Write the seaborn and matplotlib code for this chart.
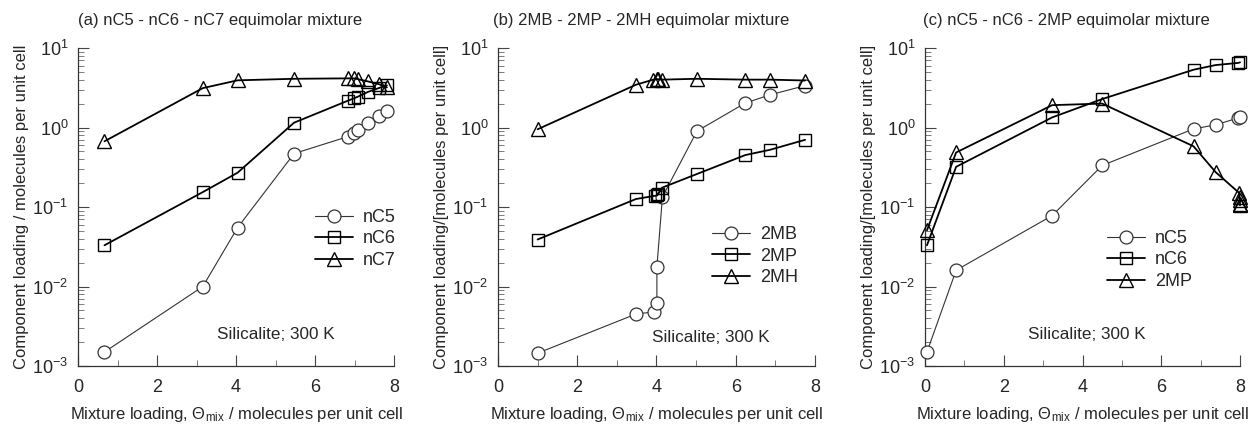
import numpy as np
import pandas as pd
import matplotlib
matplotlib.use("Agg")
import matplotlib.pyplot as plt
import seaborn as sns
from matplotlib.ticker import FixedLocator, LogLocator, NullFormatter

# (a) nC5 - nC6 - nC7
a_x = [0.67, 3.16, 4.04, 5.47, 6.84, 6.99, 7.09, 7.34, 7.62, 7.82]
a_nc5 = [0.0015, 0.010, 0.055, 0.47, 0.77, 0.85, 0.92, 1.14, 1.40, 1.62]
a_nc6 = [0.033, 0.154, 0.27, 1.15, 2.18, 2.33, 2.45, 2.80, 3.14, 3.38]
a_nc7 = [0.67, 3.13, 3.92, 4.1, 4.15, 4.15, 4.05, 3.8, 3.5, 3.2]

# (b) 2MB - 2MP - 2MH
b_x = [1.0, 3.48, 3.94, 4.01, 4.01, 4.15, 5.02, 6.24, 6.87, 7.75]
b_2mb = [0.00145, 0.0045, 0.0048, 0.0062, 0.0177, 0.134, 0.90, 2.03, 2.58, 3.36]
b_x_2mp = [1.0, 3.48, 3.95, 4.02, 4.04, 4.14, 5.02, 6.24, 6.87, 7.75]
b_2mp = [0.039, 0.126, 0.138, 0.14, 0.145, 0.175, 0.26, 0.45, 0.525, 0.70]
b_x_2mh = [1.0, 3.48, 3.92, 4.01, 4.05, 4.14, 5.02, 6.24, 6.87, 7.75]
b_2mh = [0.95, 3.45, 4.0, 4.05, 4.05, 4.0, 4.1, 4.0, 4.0, 3.9]

# (c) nC5 - nC6 - 2MP
c_x = [0.05, 0.79, 3.23, 4.5, 6.82, 7.38, 7.96, 8.0]
c_nc5 = [0.0015, 0.016, 0.078, 0.333, 0.96, 1.08, 1.32, 1.35]
c_nc6 = [0.033, 0.32, 1.34, 2.28, 5.33, 6.1, 6.5, 6.6]
c_x_2mp = [0.05, 0.79, 3.23, 4.5, 6.82, 7.38, 7.98, 7.99, 8.0, 8.0, 8.0]
c_2mp = [0.051, 0.485, 1.91, 2.0, 0.58, 0.275, 0.15, 0.134, 0.122, 0.11, 0.105]

sns.set_theme(style="ticks")
plt.rcParams["font.family"] = ["Liberation Sans", "DejaVu Sans"]
plt.rcParams["mathtext.fontset"] = "custom"
plt.rcParams["mathtext.rm"] = "Liberation Sans"
plt.rcParams["mathtext.it"] = "Liberation Sans:italic"
plt.rcParams["mathtext.default"] = "regular"

fig = plt.figure(figsize=(12.5, 4.25), dpi=100)
H = 425.0
boxes = [(78, 394), (498, 815), (925, 1240)]
axes = [fig.add_axes([l / 1250, (H - 366) / H, (r - l) / 1250, 318 / H]) for l, r in boxes]

circ = dict(marker="o", ms=9.3, mfc="white", mec="#333333", color="#333333", lw=0.8, mew=0.9)
sqr = dict(marker="s", ms=8.8, mfc="none", mec="black", color="black", lw=1.3, mew=1.0)
tri = dict(marker="^", ms=9.5, mfc="none", mec="black", color="black", lw=1.3, mew=1.0)

panels = [
    ("(a) nC5 - nC6 - nC7 equimolar mixture",
     "Component loading / molecules per unit cell",
     [(a_x, a_nc5, "nC5", circ), (a_x, a_nc6, "nC6", sqr), (a_x, a_nc7, "nC7", tri)],
     (0.75, 0.494), (0.627, 0.10)),
    ("(b) 2MB - 2MP - 2MH equimolar mixture",
     "Component loading/[molecules per unit cell]",
     [(b_x, b_2mb, "2MB", circ), (b_x_2mp, b_2mp, "2MP", sqr), (b_x_2mh, b_2mh, "2MH", tri)],
     (0.675, 0.44), (0.67, 0.09)),
    ("(c) nC5 - nC6 - 2MP equimolar mixture",
     "Component loading/[molecules per unit cell]",
     [(c_x, c_nc5, "nC5", circ), (c_x, c_nc6, "nC6", sqr), (c_x_2mp, c_2mp, "2MP", tri)],
     (0.578, 0.428), (0.515, 0.10)),
]

for ax, (title, ylab, series, leg_pos, txt_pos) in zip(axes, panels):
    for xs, ys, name, style in series:
        df = pd.DataFrame({"x": xs, "y": ys})
        sns.lineplot(data=df, x="x", y="y", ax=ax, estimator=None, sort=False,
                     label=name, clip_on=False, zorder=3, **style)
    ax.set_yscale("log")
    ax.set_ylim(1e-3, 10)
    ax.set_xlim(0, 8)
    ax.set_xticks([0, 2, 4, 6, 8])
    ax.xaxis.set_minor_locator(FixedLocator([1, 3, 5, 7]))
    ax.yaxis.set_major_locator(FixedLocator([1e-3, 1e-2, 1e-1, 1, 10]))
    ax.set_yticklabels([r"$10^{-3}$", r"$10^{-2}$", r"$10^{-1}$", r"$10^{0}$", r"$10^{1}$"])
    ax.yaxis.set_minor_locator(LogLocator(base=10, subs=np.arange(2, 10)))
    ax.yaxis.set_minor_formatter(NullFormatter())
    ax.tick_params(axis="both", which="major", direction="in", length=8, width=0.8,
                   labelsize=13, color="#444444")
    ax.tick_params(axis="x", which="major", pad=9)
    ax.tick_params(axis="y", which="major", pad=7)
    ax.tick_params(axis="both", which="minor", direction="in", length=4, width=0.6,
                   color="#666666")
    sns.despine(ax=ax)
    for s in ("left", "bottom"):
        ax.spines[s].set_linewidth(0.9)
        ax.spines[s].set_color("#333333")
    ax.set_xlabel(r"Mixture loading, $\Theta_{mix}$ / molecules per unit cell",
                  fontsize=12, labelpad=7)
    ax.set_ylabel(ylab, fontsize=12, labelpad=2)
    ax.text(0.45, 1.085, title, transform=ax.transAxes, ha="center", va="center",
            fontsize=12)
    ax.text(txt_pos[0], txt_pos[1], "Silicalite; 300 K", transform=ax.transAxes,
            ha="center", va="center", fontsize=12.3)
    ax.legend(loc="upper left", bbox_to_anchor=leg_pos, frameon=False, fontsize=13,
              handlelength=2.1, handletextpad=0.55, labelspacing=0.25, borderaxespad=0,
              borderpad=0)

fig.savefig("out.png", dpi=100)
